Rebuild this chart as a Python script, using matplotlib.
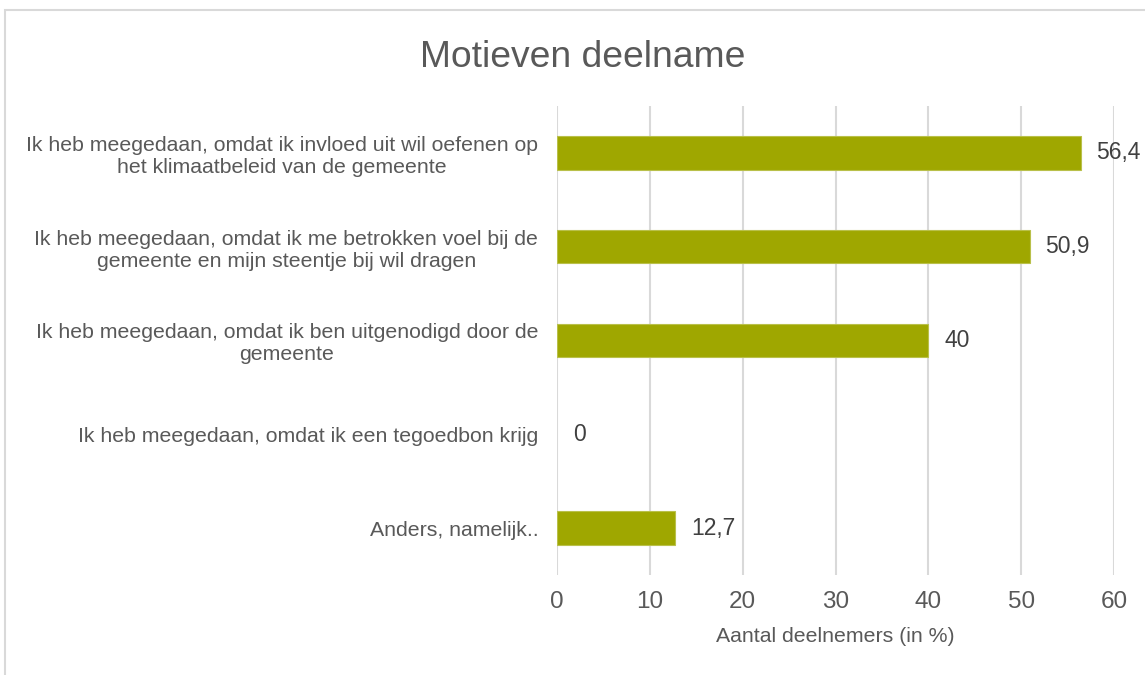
import matplotlib.pyplot as plt
from matplotlib.patches import Rectangle

# ---------------- DATI ----------------
categorie = [
    "Ik heb meegedaan, omdat ik invloed uit wil oefenen op\nhet klimaatbeleid van de gemeente",
    "Ik heb meegedaan, omdat ik me betrokken voel bij de\ngemeente en mijn steentje bij wil dragen",
    "Ik heb meegedaan, omdat ik ben uitgenodigd door de\ngemeente",
    "Ik heb meegedaan, omdat ik een tegoedbon krijg",
    "Anders, namelijk..",
]
percentuali = [56.4, 50.9, 40, 0, 12.7]
xticks = [0, 10, 20, 30, 40, 50, 60]

plt.rcParams["font.family"] = ["Liberation Sans", "DejaVu Sans"]

grigio_testo = "#595959"
grigio_griglia = "#D9D9D9"
verde = "#9FA700"

# ---------------- FIGURA ----------------
W, H = 1145, 675
fig = plt.figure(figsize=(W / 100, H / 100), dpi=100)
x0, x1, y_top, y_bot = 557, 1114, 106, 575
ax = fig.add_axes([x0 / W, 1 - y_bot / H, (x1 - x0) / W, (y_bot - y_top) / H])

pos = list(range(len(categorie)))
spessori = [0.8 if v > 0 else 0 for v in percentuali]
ax.barh(pos, percentuali, height=0.355, color=verde, edgecolor="#B9C04A",
        linewidth=spessori, zorder=3)

for y, v in zip(pos, percentuali):
    testo = f"{v:g}".replace(".", ",")
    ax.annotate(testo, (v, y), xytext=(11.5, 0), textcoords="offset points",
                va="center", ha="left", fontsize=16.5, color="#404040", zorder=4)

ax.set_ylim(len(categorie) - 0.5, -0.5)
ax.set_xlim(0, 60)
ax.set_xticks(xticks)
ax.set_yticks(pos)
ax.set_yticklabels(categorie, multialignment="center", linespacing=1.2)

ax.tick_params(axis="y", length=0, pad=13.5, labelsize=15.3, labelcolor=grigio_testo)
ax.tick_params(axis="x", length=0, pad=11.5, labelsize=17.5, labelcolor=grigio_testo)

ax.grid(axis="x", color=grigio_griglia, linewidth=1.5, zorder=0)
ax.set_axisbelow(True)
for s in ax.spines.values():
    s.set_visible(False)

ax.set_xlabel("Aantal deelnemers (in %)", fontsize=15.3, color=grigio_testo, labelpad=10)

fig.text(583 / W, 1 - 67 / H, "Motieven deelname", ha="center", va="baseline",
         fontsize=26.8, color=grigio_testo)

# bordo del grafico
fig.patches.append(Rectangle((5 / W, -0.1), 1.2, 0.1 + 1 - 9.5 / H,
                             transform=fig.transFigure, fill=False,
                             edgecolor=grigio_griglia, linewidth=1.5))

fig.savefig("out.png", dpi=100)
